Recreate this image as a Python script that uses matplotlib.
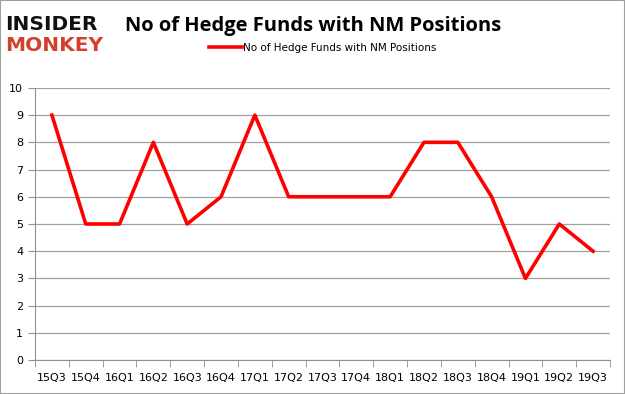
import matplotlib.pyplot as plt
from matplotlib.patches import Rectangle

quarters = ['15Q3', '15Q4', '16Q1', '16Q2', '16Q3', '16Q4', '17Q1', '17Q2', '17Q3',
            '17Q4', '18Q1', '18Q2', '18Q3', '18Q4', '19Q1', '19Q2', '19Q3']
funds = [9, 5, 5, 8, 5, 6, 9, 6, 6, 6, 6, 8, 8, 6, 3, 5, 4]
series_name = 'No of Hedge Funds with NM Positions'

fig = plt.figure(figsize=(6.25, 3.94), dpi=100)
ax = fig.add_axes([0.056, 0.086, 0.92, 0.691])

x = list(range(len(quarters)))
ax.plot(x, funds, color='#ff0000', linewidth=2.6, label=series_name)

ax.set_xlim(-0.5, len(quarters) - 0.5)
ax.set_ylim(0, 10)
ax.set_yticks(range(0, 11))
ax.set_xticks(x)
ax.set_xticklabels(quarters)
ax.set_xticks([i - 0.5 for i in range(len(quarters) + 1)], minor=True)
ax.grid(axis='y', color='#a0a0a0', linewidth=0.9)
ax.set_axisbelow(True)
ax.tick_params(axis='x', which='major', length=0, pad=9, labelsize=8)
ax.tick_params(axis='x', which='minor', length=5, color='#909090')
ax.tick_params(axis='y', length=5, color='#909090', labelsize=8)
for s in ['top', 'right']:
    ax.spines[s].set_visible(False)
ax.spines['left'].set_color('#909090')
ax.spines['bottom'].set_color('#909090')

fig.text(0.2, 0.935, series_name, fontsize=14.5, fontweight='bold',
         family='Open Sans', va='center')
fig.text(0.008, 0.938, 'INSIDER', fontsize=14.5, fontweight='bold', color='#111111',
         family='DejaVu Sans', va='center')
fig.text(0.008, 0.885, 'MONKEY', fontsize=14.5, fontweight='bold', color='#d4402a',
         family='DejaVu Sans', va='center')

ax.legend(loc='upper center', bbox_to_anchor=(0.5, 1.2), frameon=False,
          fontsize=7.5, handlelength=3.2, handletextpad=0.1)

fig.patches.append(Rectangle((0, 0), 1, 1, transform=fig.transFigure, fill=False,
                             edgecolor='#a0a0a0', linewidth=1.5))
fig.savefig('out.png')
